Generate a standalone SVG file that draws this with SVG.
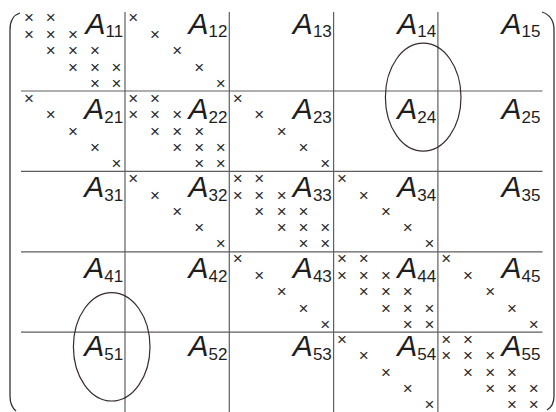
<svg xmlns="http://www.w3.org/2000/svg" width="556" height="412" viewBox="0 0 556 412">
<style>
.x{font-family:"Liberation Sans",Arial,sans-serif;font-size:17px;fill:#2a2a2a;text-anchor:middle}
.lbl{font-family:"Liberation Sans",Arial,sans-serif;fill:#1e1e1e;text-anchor:end}
.A{font-size:30px;font-style:italic}
.s{font-size:17px}
.grid{stroke:#5e5e5e;stroke-width:1.2;fill:none}
.br{stroke:#333;stroke-width:1.3;fill:none}
.ell{stroke:#3a2a2a;stroke-width:1.2;fill:none}
</style>
<defs>
<g id="diag">
<text class="x" x="8.3" y="12.6">×</text><text class="x" x="30" y="12.6">×</text>
<text class="x" x="8.3" y="29.2">×</text><text class="x" x="30" y="29.2">×</text><text class="x" x="52.3" y="29.2">×</text>
<text class="x" x="30" y="45.7">×</text><text class="x" x="52.3" y="45.7">×</text><text class="x" x="74.2" y="45.7">×</text>
<text class="x" x="52.3" y="62">×</text><text class="x" x="74.2" y="62">×</text><text class="x" x="95.8" y="62">×</text>
<text class="x" x="74.2" y="78.1">×</text><text class="x" x="95.8" y="78.1">×</text>
</g>
<g id="off">
<text class="x" x="8.3" y="12.6">×</text>
<text class="x" x="30" y="29.2">×</text>
<text class="x" x="52.3" y="45.7">×</text>
<text class="x" x="74.2" y="62">×</text>
<text class="x" x="95.8" y="78.1">×</text>
</g>
</defs>
<g id="brackets">
<path class="br" d="M20,13 Q10,16 10,30 L10,396 Q10,406 16,411"/>
<path class="br" d="M542,12 Q554,16 554,30 L554,396 Q554,406 547,410"/>
</g>
<g id="grid">
<line class="grid" x1="125" y1="12" x2="125" y2="412"/>
<line class="grid" x1="229.3" y1="12" x2="229.3" y2="412"/>
<line class="grid" x1="333.6" y1="12" x2="333.6" y2="412"/>
<line class="grid" x1="437.9" y1="12" x2="437.9" y2="412"/>
<line class="grid" x1="21" y1="91" x2="542.5" y2="91"/>
<line class="grid" x1="21" y1="171.4" x2="542.5" y2="171.4"/>
<line class="grid" x1="21" y1="251.8" x2="542.5" y2="251.8"/>
<line class="grid" x1="21" y1="332.1" x2="542.5" y2="332.1"/>
</g>
<!-- row 1 -->
<g id="A11" transform="translate(20.7,10.7)"><use href="#diag"/><text class="lbl" x="102.5" y="22.8"><tspan class="A">A</tspan><tspan class="s" dy="4">11</tspan></text></g>
<g id="A12" transform="translate(125,10.7)"><use href="#off"/><text class="lbl" x="102.5" y="22.8"><tspan class="A">A</tspan><tspan class="s" dy="4">12</tspan></text></g>
<g id="A13" transform="translate(229.3,10.7)"><text class="lbl" x="102.5" y="22.8"><tspan class="A">A</tspan><tspan class="s" dy="4">13</tspan></text></g>
<g id="A14" transform="translate(333.6,10.7)"><text class="lbl" x="102.5" y="22.8"><tspan class="A">A</tspan><tspan class="s" dy="4">14</tspan></text></g>
<g id="A15" transform="translate(437.9,10.7)"><text class="lbl" x="102.5" y="22.8"><tspan class="A">A</tspan><tspan class="s" dy="4">15</tspan></text></g>
<!-- row 2 -->
<g id="A21" transform="translate(20.7,91.05)"><use href="#off"/><text class="lbl" x="102.5" y="28.3"><tspan class="A">A</tspan><tspan class="s" dy="4">21</tspan></text></g>
<g id="A22" transform="translate(125,91.05)"><use href="#diag"/><text class="lbl" x="102.5" y="28.3"><tspan class="A">A</tspan><tspan class="s" dy="4">22</tspan></text></g>
<g id="A23" transform="translate(229.3,91.05)"><use href="#off"/><text class="lbl" x="102.5" y="28.3"><tspan class="A">A</tspan><tspan class="s" dy="4">23</tspan></text></g>
<g id="A24" transform="translate(333.6,91.05)"><text class="lbl" x="102.5" y="28.3"><tspan class="A">A</tspan><tspan class="s" dy="4">24</tspan></text></g>
<g id="A25" transform="translate(437.9,91.05)"><text class="lbl" x="102.5" y="28.3"><tspan class="A">A</tspan><tspan class="s" dy="4">25</tspan></text></g>
<!-- row 3 -->
<g id="A31" transform="translate(20.7,171.4)"><text class="lbl" x="102.5" y="25.6"><tspan class="A">A</tspan><tspan class="s" dy="4">31</tspan></text></g>
<g id="A32" transform="translate(125,171.4)"><use href="#off"/><text class="lbl" x="102.5" y="25.6"><tspan class="A">A</tspan><tspan class="s" dy="4">32</tspan></text></g>
<g id="A33" transform="translate(229.3,171.4)"><use href="#diag"/><text class="lbl" x="102.5" y="25.6"><tspan class="A">A</tspan><tspan class="s" dy="4">33</tspan></text></g>
<g id="A34" transform="translate(333.6,171.4)"><use href="#off"/><text class="lbl" x="102.5" y="25.6"><tspan class="A">A</tspan><tspan class="s" dy="4">34</tspan></text></g>
<g id="A35" transform="translate(437.9,171.4)"><text class="lbl" x="102.5" y="25.6"><tspan class="A">A</tspan><tspan class="s" dy="4">35</tspan></text></g>
<!-- row 4 -->
<g id="A41" transform="translate(20.7,251.75)"><text class="lbl" x="102.5" y="26"><tspan class="A">A</tspan><tspan class="s" dy="4">41</tspan></text></g>
<g id="A42" transform="translate(125,251.75)"><text class="lbl" x="102.5" y="26"><tspan class="A">A</tspan><tspan class="s" dy="4">42</tspan></text></g>
<g id="A43" transform="translate(229.3,251.75)"><use href="#off"/><text class="lbl" x="102.5" y="26"><tspan class="A">A</tspan><tspan class="s" dy="4">43</tspan></text></g>
<g id="A44" transform="translate(333.6,251.75)"><use href="#diag"/><text class="lbl" x="102.5" y="26"><tspan class="A">A</tspan><tspan class="s" dy="4">44</tspan></text></g>
<g id="A45" transform="translate(437.9,251.75)"><use href="#off"/><text class="lbl" x="102.5" y="26"><tspan class="A">A</tspan><tspan class="s" dy="4">45</tspan></text></g>
<!-- row 5 -->
<g id="A51" transform="translate(20.7,332.1)"><text class="lbl" x="102.5" y="24"><tspan class="A">A</tspan><tspan class="s" dy="4">51</tspan></text></g>
<g id="A52" transform="translate(125,332.1)"><text class="lbl" x="102.5" y="24"><tspan class="A">A</tspan><tspan class="s" dy="4">52</tspan></text></g>
<g id="A53" transform="translate(229.3,332.1)"><text class="lbl" x="102.5" y="24"><tspan class="A">A</tspan><tspan class="s" dy="4">53</tspan></text></g>
<g id="A54" transform="translate(333.6,332.1)"><use href="#off"/><text class="lbl" x="102.5" y="24"><tspan class="A">A</tspan><tspan class="s" dy="4">54</tspan></text></g>
<g id="A55" transform="translate(437.9,332.1)"><use href="#diag"/><text class="lbl" x="102.5" y="24"><tspan class="A">A</tspan><tspan class="s" dy="4">55</tspan></text></g>
<g id="ellipses">
<ellipse class="ell" cx="423.2" cy="97.2" rx="37.8" ry="54"/>
<ellipse class="ell" cx="111.7" cy="346.8" rx="38.3" ry="54.2"/>
</g>
</svg>
